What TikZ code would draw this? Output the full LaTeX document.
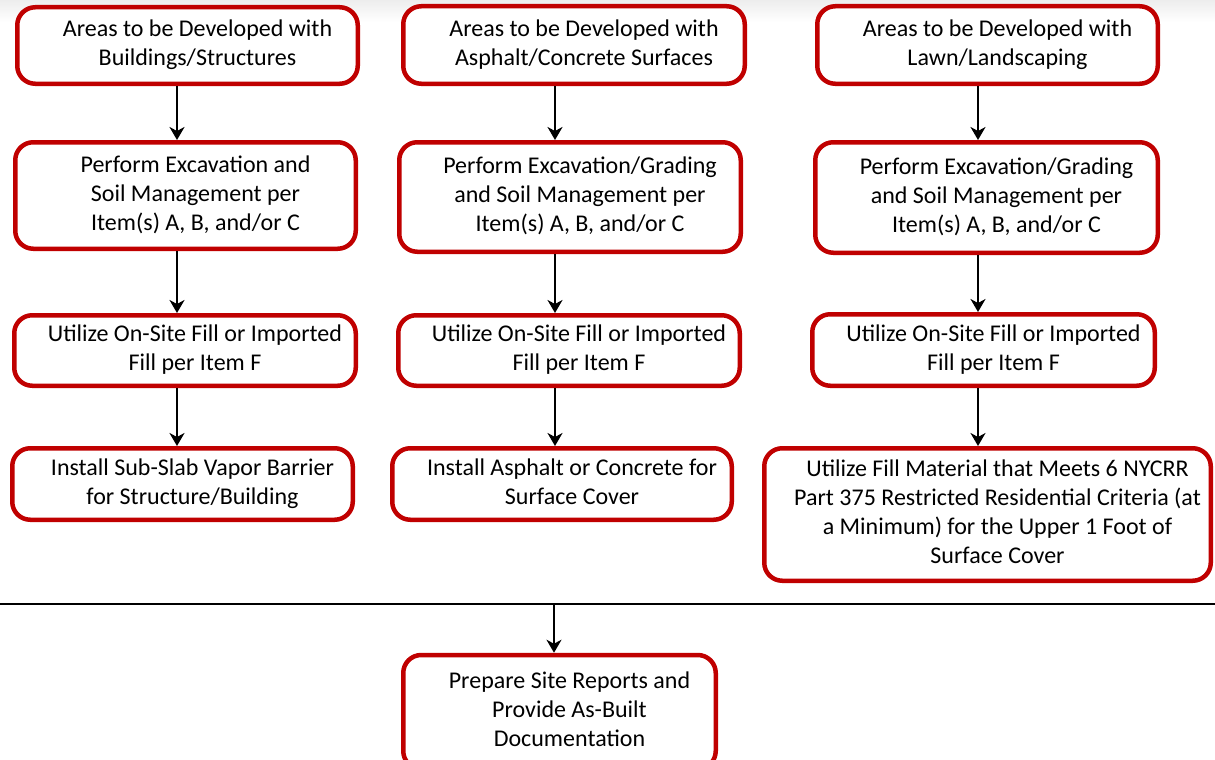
\documentclass[tikz,border=0pt]{standalone}
\usepackage{fontspec}
\setmainfont{Carlito}
\usetikzlibrary{arrows.meta}
\definecolor{boxred}{HTML}{C00000}
\tikzset{
  stepbox/.style={draw=boxred, line width=4.5pt, rounded corners=18pt, fill=white,
    inner sep=0pt, anchor=center,
    font=\fontsize{24}{29}\selectfont},
  arr/.style={line width=2pt, -{Stealth[length=13pt,width=15pt,inset=4pt]}},
}
\newcommand\mybox[6]{%
  \node[stepbox, minimum width=#4pt, minimum height=#5pt] (#1) at (#2,#3)
    {\begin{tabular}{@{\hskip20pt}c@{}}#6\end{tabular}};}
\begin{document}
\begin{tikzpicture}[x=1pt,y=-1pt]
\useasboundingbox (0,0) rectangle (1215,760);
\clip (0,0) rectangle (1215,760);
\shade[top color=gray!14, bottom color=white] (0,0) rectangle (1215,22);
% column 1
\mybox{aa}{187.5}{45.5}{340.5}{76.5}{Areas to be Developed with\\Buildings/Structures}
\mybox{ab}{185.5}{195.5}{340.5}{106.5}{Perform Excavation and\\Soil Management per\\Item(s) A, B, and/or C}
\mybox{ac}{185}{350.5}{341.5}{70.5}{Utilize On-Site Fill or Imported\\Fill per Item F}
\mybox{ad}{182.5}{484}{340.5}{71.5}{Install Sub-Slab Vapor Barrier\\for Structure/Building}
% column 2
\mybox{ba}{574}{45}{341.5}{77.5}{Areas to be Developed with\\Asphalt/Concrete Surfaces}
\mybox{bb}{570}{197}{341.5}{109.5}{Perform Excavation/Grading\\and Soil Management per\\Item(s) A, B, and/or C}
\mybox{bc}{569}{350.5}{341.5}{70.5}{Utilize On-Site Fill or Imported\\Fill per Item F}
\mybox{bd}{562}{484}{339.5}{71.5}{Install Asphalt or Concrete for\\Surface Cover}
% column 3
\mybox{ca}{987.5}{45}{340.5}{77.5}{Areas to be Developed with\\Lawn/Landscaping}
\mybox{cb}{986.5}{197.5}{342.5}{110.5}{Perform Excavation/Grading\\and Soil Management per\\Item(s) A, B, and/or C}
\mybox{cc}{983.5}{350}{342.5}{71.5}{Utilize On-Site Fill or Imported\\Fill per Item F}
\mybox{cd}{987.5}{514.5}{446.5}{132.5}{Utilize Fill Material that Meets 6 NYCRR\\Part 375 Restricted Residential Criteria (at\\a Minimum) for the Upper 1 Foot of\\Surface Cover}
% final
\mybox{fin}{559.5}{712}{312.5}{114}{Prepare Site Reports and\\Provide As-Built\\Documentation}
% column arrow lines
\coordinate (x1) at (177,0);
\coordinate (x2) at (555,0);
\coordinate (x3) at (978,0);
\draw[arr] (aa.south -| x1) -- (ab.north -| x1);
\draw[arr] (ab.south -| x1) -- (ac.north -| x1);
\draw[arr] (ac.south -| x1) -- (ad.north -| x1);
\draw[arr] (ba.south -| x2) -- (bb.north -| x2);
\draw[arr] (bb.south -| x2) -- (bc.north -| x2);
\draw[arr] (bc.south -| x2) -- (bd.north -| x2);
\draw[arr] (ca.south -| x3) -- (cb.north -| x3);
\draw[arr] (cb.south -| x3) -- (cc.north -| x3);
\draw[arr] (cc.south -| x3) -- (cd.north -| x3);
% separator
\coordinate (hl) at (0,603.5);
\coordinate (hr) at (1215,603.5);
\coordinate (hm) at (554,603.5);
\draw[line width=2pt] (hl) -- (hr);
\draw[arr] (hm) -- (fin.north -| hm);
\end{tikzpicture}
\end{document}
